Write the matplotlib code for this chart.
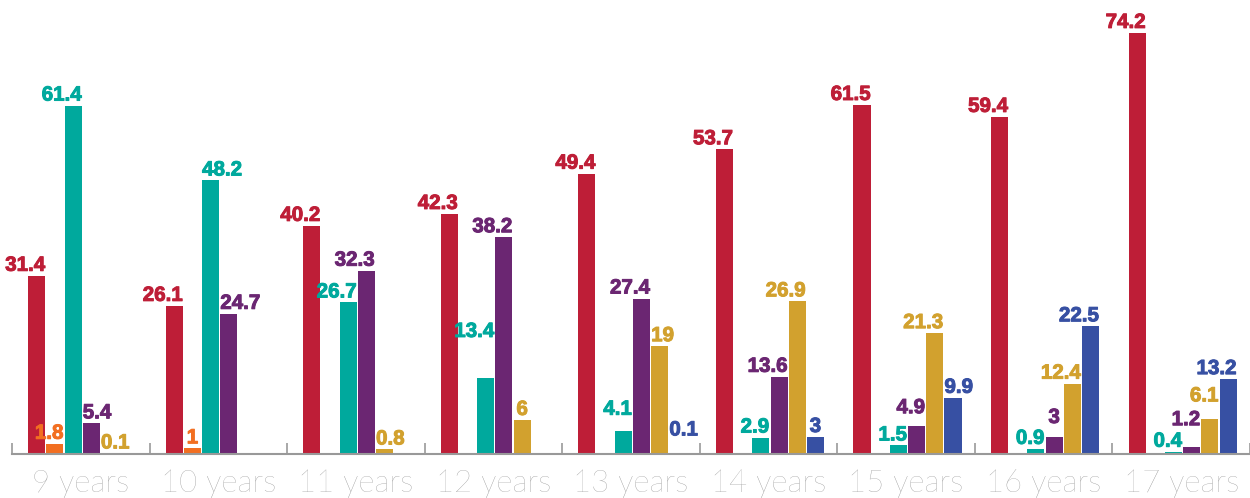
import numpy as np
import matplotlib
matplotlib.use("Agg")
import matplotlib.pyplot as plt
import matplotlib.patheffects as pe

nan = np.nan
groups = ["9 years", "10 years", "11 years", "12 years", "13 years",
          "14 years", "15 years", "16 years", "17 years"]
red = [31.4, 26.1, 40.2, 42.3, 49.4, 53.7, 61.5, 59.4, 74.2]
orange = [1.8, 1.0, nan, nan, nan, nan, nan, nan, nan]
teal = [61.4, 48.2, 26.7, 13.4, 4.1, 2.9, 1.5, 0.9, 0.4]
purple = [5.4, 24.7, 32.3, 38.2, 27.4, 13.6, 4.9, 3.0, 1.2]
gold = [0.1, nan, 0.8, 6.0, 19.0, 26.9, 21.3, 12.4, 6.1]
blue = [nan, nan, nan, nan, 0.1, 3.0, 9.9, 22.5, 13.2]

series = [red, orange, teal, purple, gold, blue]
colors = ["#BE1E37", "#F26F21", "#00A99D", "#6B2672", "#D2A12E", "#3750A3"]

# label placement: default is right-aligned to the bar's right edge
ALIGN = {(0, 3): "left", (0, 4): "left", (1, 1): "center", (1, 2): "left",
         (1, 3): "left", (2, 4): "left", (3, 4): "center", (4, 4): "left",
         (4, 5): "left", (5, 5): "center", (6, 5): "left", (7, 3): "center"}
# extra pixels above the bar where neighbouring labels would collide
LIFT = {(3, 2): 36, (4, 2): 11, (4, 5): 13, (6, 3): 8, (7, 3): 9,
        (8, 3): 17, (8, 4): 13}

GREY = "#999999"
fig = plt.figure(figsize=(12.5, 4.98), dpi=100)
ax = fig.add_axes([12 / 1250, 1 - 454 / 498, 1 - 12 / 1250, 454 / 498])

step, width = 0.1323, 0.124
x = np.arange(len(groups))
for k, (vals, col) in enumerate(zip(series, colors)):
    off = (k - 2.5) * step + 0.01
    for i, v in enumerate(vals):
        if np.isnan(v):
            continue
        ax.bar(x[i] + off, v, width=width, color=col, linewidth=0)
        ha = ALIGN.get((i, k), "right")
        xe = {"left": x[i] + off - width / 2, "right": x[i] + off + width / 2,
              "center": x[i] + off}[ha]
        dy = (5 + LIFT.get((i, k), 0)) * 0.72
        ax.annotate(f"{v:g}", (xe, v), xytext=(0, dy), textcoords="offset points",
                    ha=ha, va="baseline", color=col, fontsize=14.8,
                    fontweight="bold", family="Liberation Sans",
                    path_effects=[pe.withStroke(linewidth=0.7, foreground=col)])

ax.set_xlim(-0.5, len(groups) - 0.5)
ax.set_ylim(0, 80)
ax.set_yticks([])
for s in ["top", "left", "right"]:
    ax.spines[s].set_visible(False)
ax.spines["bottom"].set_color(GREY)
ax.spines["bottom"].set_linewidth(1.5)

ax.set_xticks(np.arange(-0.5, len(groups), 1))
ax.set_xticklabels([])
ax.tick_params(axis="x", which="major", direction="in", length=8, width=1.2, color=GREY)
ax.set_xticks(x, minor=True)
ax.set_xticklabels(groups, minor=True, fontsize=22.5, color="#8f8f8f",
                   family="Lato", fontweight="light")
ax.tick_params(axis="x", which="minor", length=0, pad=11)

fig.savefig("out.png", dpi=100)
